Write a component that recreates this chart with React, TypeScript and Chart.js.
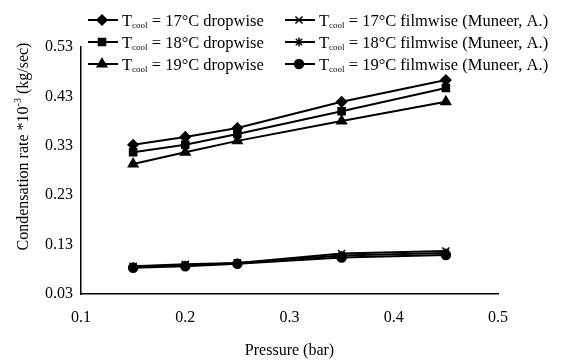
import React, { useEffect, useRef } from 'react';
import { Chart, registerables } from 'chart.js';
import { drawPoint } from 'chart.js/helpers';

Chart.register(...registerables);

const pressures = [0.15, 0.2, 0.25, 0.35, 0.45];
const drop17 = [0.332, 0.348, 0.366, 0.419, 0.463];
const drop18 = [0.317, 0.332, 0.354, 0.4, 0.447];
const drop19 = [0.293, 0.317, 0.34, 0.38, 0.419];
const film17 = [0.086, 0.09, 0.093, 0.112, 0.117];
const film18 = [0.085, 0.088, 0.092, 0.108, 0.113];
const film19 = [0.083, 0.086, 0.091, 0.104, 0.109];

const legendTemps = ['17', '18', '19', '17', '18', '19'];
const legendKinds = ['dropwise', 'dropwise', 'dropwise', 'filmwise (Muneer, A.)', 'filmwise (Muneer, A.)', 'filmwise (Muneer, A.)'];
const yTickValues = [0.03, 0.13, 0.23, 0.33, 0.43, 0.53];
const xTickValues = [0.1, 0.2, 0.3, 0.4, 0.5];
const xTitle = 'Pressure (bar)';
const yTitleMain = 'Condensation rate *10';
const yTitleSup = '-3';
const yTitleEnd = ' (kg/sec)';

const FONT = '"Liberation Serif", "Times New Roman", serif';

const seriesList = [
  { data: drop17, style: 'rectRot', radius: 5 },
  { data: drop18, style: 'rect', radius: 5 },
  { data: drop19, style: 'triangle', radius: 5.5 },
  { data: film17, style: 'crossRot', radius: 5 },
  { data: film18, style: 'star', radius: 4.5 },
  { data: film19, style: 'circle', radius: 4.5 },
];

const customDraw = {
  id: 'customDraw',
  afterDraw(chart: any) {
    const ctx = chart.ctx;
    ctx.save();
    ctx.fillStyle = '#000';
    ctx.strokeStyle = '#000';
    // legend
    const rowsY = [20, 42, 64];
    const colX = [88, 285];
    for (let i = 0; i < 6; i++) {
      const col = i < 3 ? 0 : 1;
      const row = i % 3;
      const x0 = colX[col];
      const y = rowsY[row];
      ctx.lineWidth = 2;
      ctx.beginPath();
      ctx.moveTo(x0, y);
      ctx.lineTo(x0 + 30, y);
      ctx.stroke();
      const s = seriesList[i];
      ctx.lineWidth = 1.5;
      drawPoint(ctx, { pointStyle: s.style, radius: s.radius, rotation: 0, borderWidth: 1.5 } as any, x0 + 14, y);
      if (s.style !== 'crossRot' && s.style !== 'star') ctx.fill();
      let tx = x0 + 34;
      ctx.textBaseline = 'alphabetic';
      ctx.textAlign = 'left';
      ctx.font = `16.5px ${FONT}`;
      ctx.fillText('T', tx, y + 6);
      tx += ctx.measureText('T').width;
      ctx.font = `9px ${FONT}`;
      ctx.fillText('cool', tx, y + 8);
      tx += ctx.measureText('cool').width;
      ctx.font = `16.5px ${FONT}`;
      ctx.fillText(` = ${legendTemps[i]}°C ${legendKinds[i]}`, tx, y + 6);
    }
    // y title
    const area = chart.chartArea;
    ctx.translate(28, (area.top + area.bottom) / 2 - 24);
    ctx.rotate(-Math.PI / 2);
    ctx.font = `16px ${FONT}`;
    const w1 = ctx.measureText(yTitleMain).width;
    const w3 = ctx.measureText(yTitleEnd).width;
    ctx.font = `10px ${FONT}`;
    const w2 = ctx.measureText(yTitleSup).width;
    const total = w1 + w2 + w3;
    let px = -total / 2;
    ctx.textBaseline = 'alphabetic';
    ctx.font = `16px ${FONT}`;
    ctx.fillText(yTitleMain, px, 0);
    px += w1;
    ctx.font = `10px ${FONT}`;
    ctx.fillText(yTitleSup, px, -7);
    px += w2;
    ctx.font = `16px ${FONT}`;
    ctx.fillText(yTitleEnd, px, 0);
    ctx.restore();
  },
};

export default function App() {
  const ref = useRef<HTMLCanvasElement>(null);
  useEffect(() => {
    const datasets = seriesList.map((s) => ({
      data: pressures.map((p, i) => ({ x: p, y: s.data[i] })),
      borderColor: '#000',
      backgroundColor: s.style === 'crossRot' || s.style === 'star' ? 'rgba(0,0,0,0)' : '#000',
      borderWidth: 2,
      pointStyle: s.style,
      pointRadius: s.radius,
      pointBorderWidth: 1.5,
      pointBorderColor: '#000',
      pointBackgroundColor: '#000',
      tension: 0,
    }));
    const chart = new Chart(ref.current!, {
      type: 'line',
      data: { datasets } as any,
      options: {
        animation: false,
        responsive: false,
        layout: { padding: { top: 47, right: 66, left: 0, bottom: 0 } },
        plugins: { legend: { display: false }, tooltip: { enabled: false } },
        scales: {
          x: {
            type: 'linear',
            min: 0.1,
            max: 0.5,
            afterBuildTicks: (axis: any) => {
              axis.ticks = xTickValues.map((v) => ({ value: v }));
            },
            afterFit: (axis: any) => {
              axis.height = 66;
            },
            grid: { display: false, drawTicks: true, tickLength: 5, tickColor: '#000' } as any,
            border: { display: true, color: '#000', width: 1.5 },
            ticks: {
              color: '#000',
              font: { family: FONT, size: 16 },
              padding: 9,
              callback: (v: any) => Number(v).toFixed(1),
            },
            title: {
              display: true,
              text: xTitle,
              color: '#000',
              font: { family: FONT, size: 16 },
              padding: { top: 6, bottom: 0 },
            },
          },
          y: {
            type: 'linear',
            min: 0.03,
            max: 0.53,
            afterBuildTicks: (axis: any) => {
              axis.ticks = yTickValues.map((v) => ({ value: v }));
            },
            afterFit: (axis: any) => {
              axis.width = 81;
            },
            grid: { display: false, drawTicks: true, tickLength: 5, tickColor: '#000' } as any,
            border: { display: true, color: '#000', width: 1.5 },
            ticks: {
              color: '#000',
              font: { family: FONT, size: 16 },
              padding: 3,
              callback: (v: any) => Number(v).toFixed(2),
            },
          },
        },
      },
      plugins: [customDraw],
    });
    return () => chart.destroy();
  }, []);
  return (
    <div style={{ position: 'absolute', left: 0, top: 0, width: 564, height: 360, background: '#fff' }}>
      <canvas ref={ref} width={564} height={360} style={{ display: 'block' }} />
    </div>
  );
}
